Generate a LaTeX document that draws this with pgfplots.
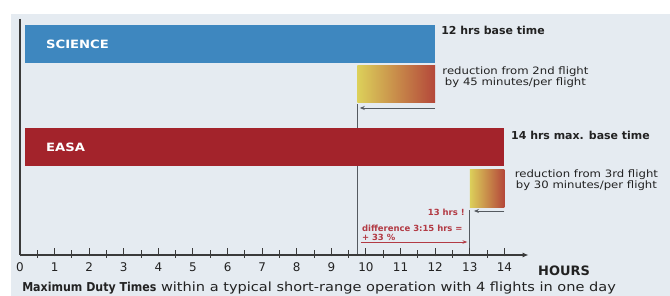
\documentclass[border=0pt]{standalone}
\usepackage{pgfplots}
\pgfplotsset{compat=1.18}
\usepackage{fontspec}
\setmainfont{DejaVu Sans}
\newfontfamily\widefont{DejaVu Sans}[FakeStretch=1.15]
\newfontfamily\narrowfont{DejaVu Sans}[FakeStretch=0.9]
\usetikzlibrary{arrows.meta}
\definecolor{panel}{HTML}{E5EBF1}
\definecolor{sciblue}{HTML}{3E87BF}
\definecolor{easared}{HTML}{A3232B}
\definecolor{gyel}{HTML}{DCD05A}
\definecolor{gred}{HTML}{B4473A}
\definecolor{redtxt}{HTML}{B23A44}
\definecolor{axisgray}{HTML}{3A3A3A}
\definecolor{guide}{HTML}{555A60}
\definecolor{txt}{HTML}{222222}
\begin{document}
\begin{tikzpicture}
\fill[white] (0,0) rectangle (670bp,296bp);
\begin{axis}[name=main, at={(0,0)}, anchor=south west, scale only axis,
  width=670bp, height=296bp, xmin=-0.578, xmax=18.786, ymin=0, ymax=296,
  y dir=reverse, hide axis, clip=false]
\fill[panel] (axis cs:-0.26,14) rectangle (axis cs:18.786,296);
% vertical axis line
\addplot[axisgray, line width=1.5bp] coordinates {(0,19) (0,255)};
% guide lines (behind the bars)
\addplot[guide, line width=1bp] coordinates {(9.75,104) (9.75,255)};
\addplot[guide, line width=1bp] coordinates {(13,210) (13,255)};
% base duty times (hours)
\addplot[fill=sciblue, draw=none] coordinates {(0.14,25) (12,25) (12,63) (0.14,63)} -- cycle;
\addplot[fill=easared, draw=none] coordinates {(0.14,128) (14,128) (14,166) (0.14,166)} -- cycle;
% reductions
\addplot[draw=none, left color=gyel, right color=gred] coordinates {(9.75,65) (12,65) (12,102) (9.75,102)} -- cycle;
\addplot[draw=none, left color=gyel, right color=gred] coordinates {(13,169) (14,169) (14,207) (13,207)} -- cycle;
% arrows
\addplot[guide, line width=0.9bp, -{Stealth[length=5bp,width=4bp]}] coordinates {(12,108) (9.82,108)};
\addplot[guide, line width=0.9bp, -{Stealth[length=5bp,width=4bp]}] coordinates {(14,211) (13.12,211)};
\addplot[redtxt, line width=0.7bp, -{Stealth[length=5bp,width=3.5bp]}] coordinates {(9.85,242) (12.93,242)};
% texts
\node[anchor=west, text=white, inner sep=0pt, font=\widefont\bfseries\fontsize{11.5}{12}\selectfont] at (axis cs:0.75,44) {SCIENCE};
\node[anchor=west, text=white, inner sep=0pt, font=\widefont\bfseries\fontsize{11.5}{12}\selectfont] at (axis cs:0.75,147) {EASA};
\node[anchor=west, text=txt, font=\bfseries\fontsize{11}{12}\selectfont, inner sep=0pt] at (axis cs:12.17,30) {12 hrs base time};
\node[anchor=west, text=txt, font=\bfseries\fontsize{11}{12}\selectfont, inner sep=0pt] at (axis cs:14.19,135) {14 hrs max. base time};
\node[align=center, text=txt, font=\widefont\fontsize{10.2}{11}\selectfont, inner sep=0pt] at (axis cs:14.32,77.5) {reduction from 2nd flight\\by 45 minutes/per flight};
\node[align=center, text=txt, font=\widefont\fontsize{10.2}{11}\selectfont, inner sep=0pt] at (axis cs:16.37,180.5) {reduction from 3rd flight\\by 30 minutes/per flight};
\node[anchor=east, text=redtxt, font=\bfseries\fontsize{8.5}{9}\selectfont, inner sep=0pt] at (axis cs:12.86,212) {13 hrs !};
\node[anchor=west, align=left, text=redtxt, font=\bfseries\fontsize{8.5}{9}\selectfont, inner sep=0pt] at (axis cs:9.88,233) {difference 3:15 hrs =\\+ 33 \%};
\node[anchor=west, text=txt, font=\bfseries\fontsize{13}{14}\selectfont, inner sep=0pt] at (axis cs:14.97,271) {HOURS};
\node[anchor=west, text=txt, inner sep=0pt] at (axis cs:0.06,288) {\narrowfont\fontsize{12.3}{13}\selectfont\bfseries Maximum Duty Times\widefont\mdseries\fontsize{12.7}{13}\selectfont{} within a typical short-range operation with 4 flights in one day};
\end{axis}
\begin{axis}[at={(20bp,41bp)}, anchor=south west, scale only axis,
  width=508.6bp, height=10bp, xmin=0, xmax=14.7, ymin=0, ymax=1,
  axis x line=bottom, axis y line=none,
  x axis line style={axisgray, line width=1.4bp, -{Latex[length=6bp,width=5bp]}},
  xtick={0,...,14}, minor xtick={0.5,1.5,...,13.5},
  xtick align=inside, major tick length=8bp, minor tick length=8bp,
  xtick style={draw=axisgray, line width=1bp, yshift=-1.5bp},
  minor x tick style={draw=axisgray, line width=1bp, yshift=-1.5bp},
  xticklabel style={font=\fontsize{12}{13}\selectfont, text=txt, yshift=-4bp},
  /pgf/number format/assume math mode=true]
\addplot[draw=none] coordinates {(0,0) (14,0)};
\end{axis}
\pgfresetboundingbox
\path[use as bounding box] (0,0) rectangle (670bp,296bp);
\end{tikzpicture}
\end{document}
